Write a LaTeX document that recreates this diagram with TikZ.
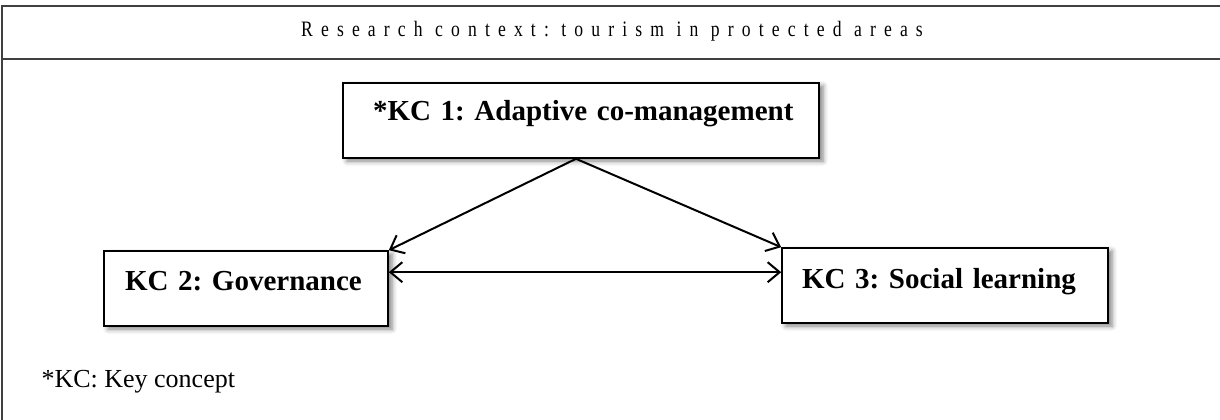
\documentclass[tikz,border=0pt]{standalone}
\usepackage{fontspec}
\setmainfont{Liberation Serif}
\newfontfamily\titlefont[LetterSpace=37,FakeStretch=0.8]{Liberation Serif}
\usetikzlibrary{arrows.meta,shadows.blur,calc}
\definecolor{framegray}{HTML}{404040}
\tikzset{
  frameline/.style={draw=framegray, line width=2pt},
  kcbox/.style={draw=black, line width=1.6pt, fill=white, inner ysep=0pt,
    align=left, font=\fontsize{29}{32}\selectfont\bfseries\frenchspacing,
    blur shadow={shadow xshift=4pt, shadow yshift=-3pt, shadow blur radius=5pt, shadow opacity=50}},
  conn/.style={line width=2pt, {Straight Barb[length=12pt,width=20pt]}-{Straight Barb[length=12pt,width=20pt]}},
  oneway/.style={line width=2pt, -{Straight Barb[length=12pt,width=20pt]}}
}
\begin{document}
\frenchspacing
\begin{tikzpicture}[x=1pt,y=-1pt]
\useasboundingbox (0,0) rectangle (1220,420);
\coordinate (tl) at (2,6.5);
\coordinate (tr) at (1220,6.5);
\coordinate (sl) at (2,59.5);
\coordinate (sr) at (1220,59.5);
\coordinate (bl) at (2,420);
\draw[frameline] (tr) -- (tl) -- (bl);
\draw[frameline] (sl) -- (sr);
\node (title) at (612,31) {\fontsize{22}{24}\selectfont\titlefont Research context: tourism in protected areas};
\node[kcbox, inner xsep=30pt, text width=416pt, text height=37pt, text depth=38pt] (kc1) at (581,120.5) {\mbox{*KC 1: Adaptive co-management}};
\node[kcbox, inner xsep=21pt, text width=242pt, text height=39pt, text depth=36pt] (kc2) at (246,288.5) {\mbox{KC 2: Governance}};
\node[kcbox, inner xsep=20pt, text width=286pt, text height=40pt, text depth=35pt] (kc3) at (945,285.5) {\mbox{KC 3: Social learning}};
\coordinate (apex) at ($(kc1.south)+(-5pt,0)$);
\draw[oneway] (apex) -- (kc2.north east);
\draw[oneway] (apex) -- (kc3.north west);
\draw[conn] ([yshift=-22pt]kc2.north east) -- ([yshift=-25pt]kc3.north west);
\node[anchor=west, font=\fontsize{26}{28}\selectfont] (note) at (38,382) {*KC: Key concept};
\end{tikzpicture}
\end{document}
